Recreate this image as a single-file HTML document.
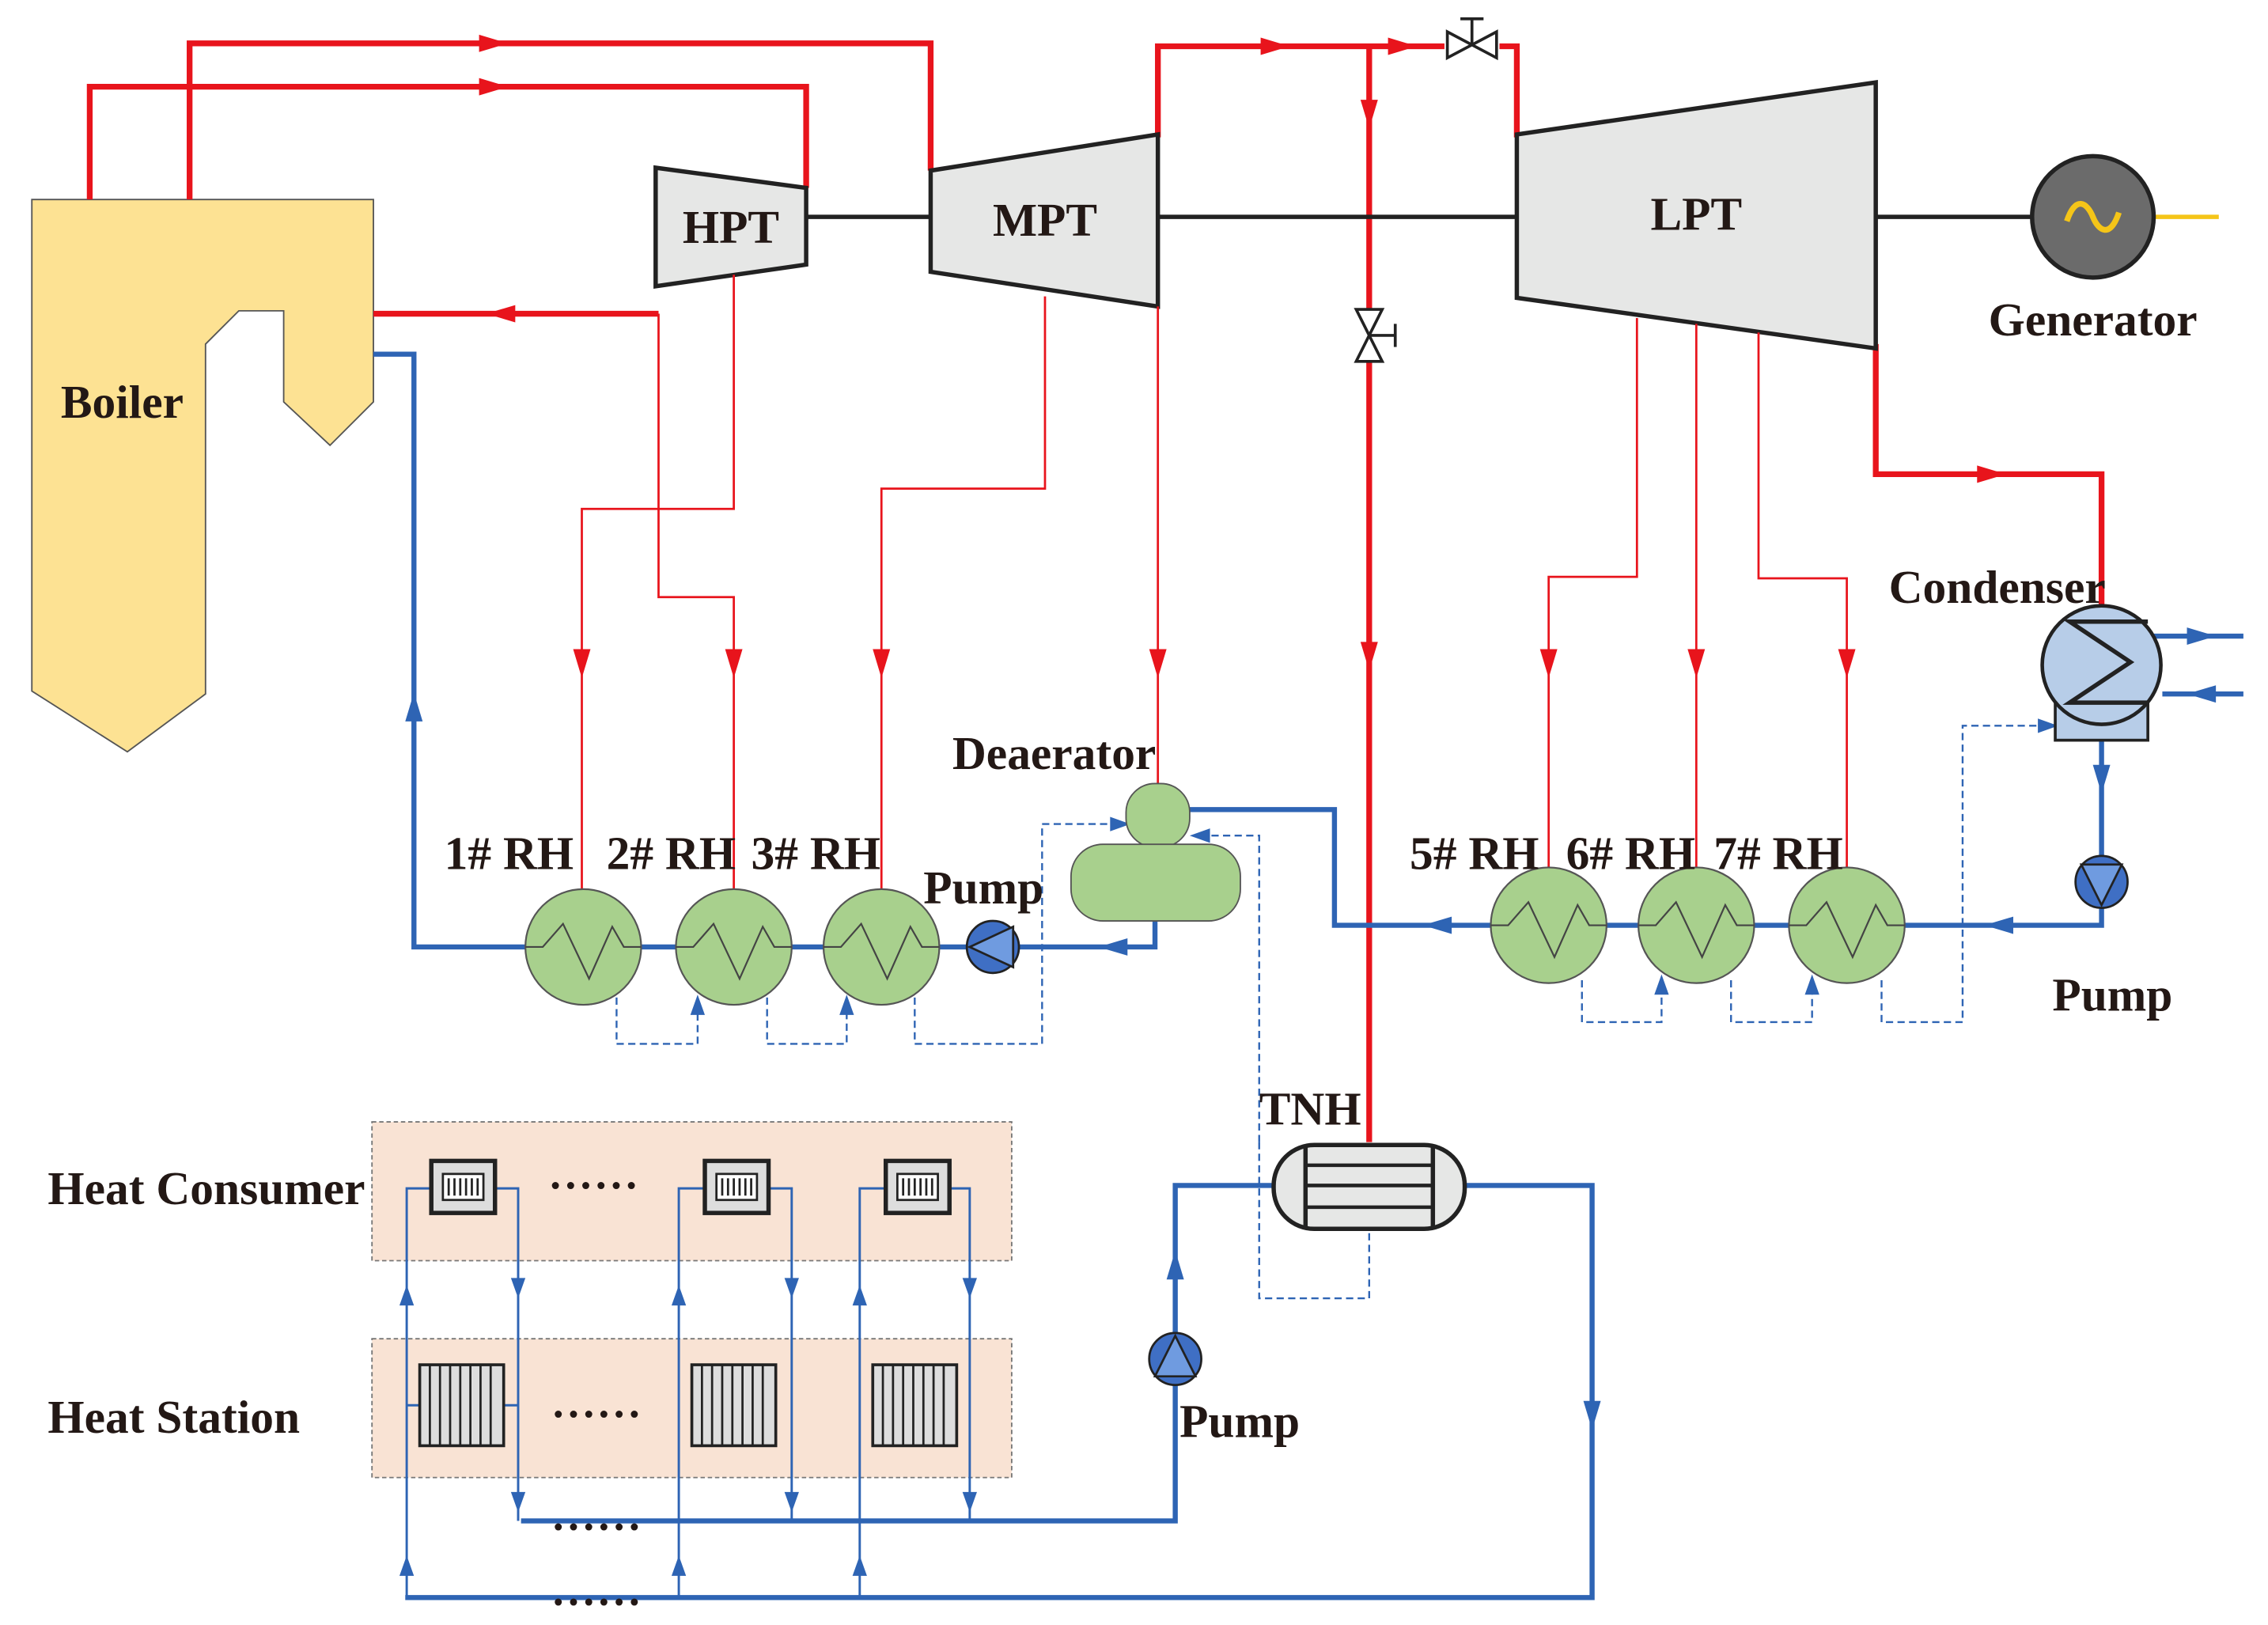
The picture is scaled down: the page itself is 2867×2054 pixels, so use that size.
<!DOCTYPE html>
<html><head><meta charset="utf-8"><style>html,body{margin:0;padding:0;background:#fff}svg{display:block}text{font-family:"Liberation Serif",serif;font-weight:bold;fill:#231815}</style></head>
<body>
<svg width="2867" height="2054" viewBox="0 0 1567 1124" preserveAspectRatio="none" xmlns="http://www.w3.org/2000/svg">
<defs>
<polygon id="ar" points="-11,-6 9,0 -11,6"/>
<polygon id="as" points="-8,-5 6,0 -8,5"/>
<g id="zz"><polyline points="-40,0 -28,0 -14,-16 4,22 20,-14 28,0 40,0" fill="none" stroke="#444" stroke-width="1.2"/></g>
</defs>
<polygon points="22,138 258,138 258,278 228,308 196,278 196,215 165,215 142,238 142,480 88,520 22,478" fill="#fde293" stroke="#555" stroke-width="1"/>
<text x="42" y="289" font-size="32.5">Boiler</text>
<g fill="none" stroke="#e8141c" stroke-width="4">
<polyline points="62,138 62,60 557,60 557,130"/>
<polyline points="131,138 131,30 643,30 643,118"/>
<polyline points="455,217 258,217"/>
<polyline points="800,95 800,32 1048,32 1048,95"/>
<polyline points="946,32 946,790"/>
<polyline points="1296,238 1296,328 1452,328 1452,422"/>
</g>
<g fill="#e8141c">
<use href="#ar" transform="translate(342,60)"/>
<use href="#ar" transform="translate(342,30)"/>
<use href="#ar" transform="translate(345,217) rotate(180)"/>
<use href="#ar" transform="translate(882,32)"/>
<use href="#ar" transform="translate(970,32)"/>
<use href="#ar" transform="translate(946,80) rotate(90)"/>
<use href="#ar" transform="translate(946,455) rotate(90)"/>
<use href="#ar" transform="translate(1377,328)"/>
</g>
<rect x="998" y="24" width="38" height="16" fill="#fff"/>
<polygon points="1000,22 1000,40 1034,22 1034,40" fill="#fff" stroke="#222" stroke-width="2"/>
<line x1="1017" y1="31" x2="1017" y2="13" stroke="#222" stroke-width="2"/><line x1="1009" y1="13" x2="1025" y2="13" stroke="#222" stroke-width="2"/>
<rect x="938" y="214" width="16" height="36" fill="#fff"/>
<polygon points="937,214 955,214 937,250 955,250" fill="#fff" stroke="#222" stroke-width="2"/>
<line x1="946" y1="232" x2="964" y2="232" stroke="#222" stroke-width="2"/><line x1="964" y1="224" x2="964" y2="240" stroke="#222" stroke-width="2"/>
<g stroke="#222" stroke-width="3"><line x1="557" y1="150" x2="643" y2="150"/><line x1="800" y1="150" x2="1048" y2="150"/><line x1="1296" y1="150" x2="1405" y2="150"/></g>
<g fill="#e6e7e6" stroke="#222" stroke-width="3">
<polygon points="453,116 557,130 557,183 453,198"/>
<polygon points="643,118 800,93 800,212 643,188"/>
<polygon points="1048,93 1296,57 1296,241 1048,206"/>
</g>
<text x="505" y="168" font-size="32.5" text-anchor="middle">HPT</text>
<text x="722" y="163" font-size="32.5" text-anchor="middle">MPT</text>
<text x="1172" y="159" font-size="32.5" text-anchor="middle">LPT</text>
<line x1="1488" y1="150" x2="1533" y2="150" stroke="#f5c518" stroke-width="3"/>
<circle cx="1446" cy="150" r="42" fill="#6b6b6b" stroke="#222" stroke-width="3"/>
<path d="M1428,153 C1434,135 1442,140 1446,150 C1450,160 1458,165 1464,147" fill="none" stroke="#f5c518" stroke-width="4"/>
<text x="1446" y="232" font-size="32.5" text-anchor="middle">Generator</text>
<g fill="none" stroke="#e8141c" stroke-width="1.5">
<polyline points="507,190 507,352 402,352 402,615"/>
<polyline points="455,217 455,413 507,413 507,615"/>
<polyline points="722,205 722,338 609,338 609,615"/>
<polyline points="800,212 800,542"/>
<polyline points="1131,220 1131,399 1070,399 1070,600"/>
<polyline points="1172,224 1172,600"/>
<polyline points="1215,230 1215,400 1276,400 1276,600"/>
</g>
<g fill="#e8141c">
<use href="#ar" transform="translate(402,460) rotate(90)"/>
<use href="#ar" transform="translate(507,460) rotate(90)"/>
<use href="#ar" transform="translate(609,460) rotate(90)"/>
<use href="#ar" transform="translate(800,460) rotate(90)"/>
<use href="#ar" transform="translate(1070,460) rotate(90)"/>
<use href="#ar" transform="translate(1172,460) rotate(90)"/>
<use href="#ar" transform="translate(1276,460) rotate(90)"/>
</g>
<g fill="none" stroke="#2e64b4" stroke-width="1.3" stroke-dasharray="5,3">
<polyline points="426,690 426,722 482,722 482,692"/>
<polyline points="530,690 530,722 585,722 585,692"/>
<polyline points="632,690 632,722 720,722 720,570 775,570"/>
<polyline points="870,790 870,898 946,898 946,850"/>
<polyline points="870,790 870,578 826,578"/>
<polyline points="1093,678 1093,707 1148,707 1148,678"/>
<polyline points="1196,678 1196,707 1252,707 1252,678"/>
<polyline points="1300,678 1300,707 1356,707 1356,502 1416,502"/>
</g>
<g fill="#2e64b4">
<use href="#as" transform="translate(482,694) rotate(-90)"/>
<use href="#as" transform="translate(585,694) rotate(-90)"/>
<use href="#as" transform="translate(775,570)"/>
<use href="#as" transform="translate(828,578) rotate(180)"/>
<use href="#as" transform="translate(1148,680) rotate(-90)"/>
<use href="#as" transform="translate(1252,680) rotate(-90)"/>
<use href="#as" transform="translate(1416,502)"/>
</g>
<g fill="none" stroke="#2e64b4" stroke-width="3.5">
<polyline points="258,245 286,245 286,655 668,655"/>
<polyline points="704,655 798,655 798,637"/>
<polyline points="822,560 922,560 922,640 1452,640 1452,628"/>
<polyline points="1452,592 1452,512"/>
<polyline points="1484,440 1550,440"/><polyline points="1494,480 1550,480"/>
<polyline points="880,820 812,820 812,922"/>
<polyline points="812,958 812,1052 360,1052"/>
<polyline points="1012,820 1100,820 1100,1105 280,1105"/>
</g>
<g fill="#2e64b4">
<use href="#ar" transform="translate(286,488) rotate(-90)"/>
<use href="#ar" transform="translate(768,655) rotate(180)"/>
<use href="#ar" transform="translate(992,640) rotate(180)"/>
<use href="#ar" transform="translate(1380,640) rotate(180)"/>
<use href="#ar" transform="translate(1452,540) rotate(90)"/>
<use href="#ar" transform="translate(1522,440)"/>
<use href="#ar" transform="translate(1520,480) rotate(180)"/>
<use href="#ar" transform="translate(812,874) rotate(-90)"/>
<use href="#ar" transform="translate(1100,980) rotate(90)"/>
</g>
<g fill="#a8d08d" stroke="#555" stroke-width="1.2">
<circle cx="403" cy="655" r="40"/><circle cx="507" cy="655" r="40"/><circle cx="609" cy="655" r="40"/>
<circle cx="1070" cy="640" r="40"/><circle cx="1172" cy="640" r="40"/><circle cx="1276" cy="640" r="40"/>
</g>
<use href="#zz" transform="translate(403,655)"/><use href="#zz" transform="translate(507,655)"/><use href="#zz" transform="translate(609,655)"/>
<use href="#zz" transform="translate(1070,640)"/><use href="#zz" transform="translate(1172,640)"/><use href="#zz" transform="translate(1276,640)"/>
<g fill="#3f6fc4" stroke="#222" stroke-width="1.5">
<circle cx="686" cy="655" r="18"/><circle cx="1452" cy="610" r="18"/><circle cx="812" cy="940" r="18"/>
</g>
<g fill="#6f9be0" stroke="#222" stroke-width="1.5">
<polygon points="670,655 700,641 700,669"/>
<polygon points="1438,598 1466,598 1452,626"/>
<polygon points="812,924 826,952 798,952"/>
</g>
<rect x="778" y="542" width="44" height="44" rx="20" fill="#a8d08d" stroke="#555"/>
<rect x="740" y="584" width="117" height="53" rx="22" fill="#a8d08d" stroke="#555"/>
<text x="658" y="532" font-size="32.5">Deaerator</text>
<rect x="1420" y="484" width="64" height="28" fill="#b7cde8" stroke="#222" stroke-width="2"/>
<circle cx="1452" cy="460" r="41" fill="#b7cde8" stroke="#222" stroke-width="2.5"/>
<polyline points="1484,430 1430,430 1472,458 1430,486 1484,486" fill="none" stroke="#222" stroke-width="3"/>
<text x="1305" y="417" font-size="32.5">Condenser</text>
<rect x="880" y="792" width="132" height="58" rx="28" fill="#e6e7e6" stroke="#222" stroke-width="3"/>
<line x1="902" y1="792" x2="902" y2="850" stroke="#222" stroke-width="3"/><line x1="990" y1="792" x2="990" y2="850" stroke="#222" stroke-width="3"/>
<g stroke="#222" stroke-width="2.5"><line x1="902" y1="806" x2="990" y2="806"/><line x1="902" y1="820" x2="990" y2="820"/><line x1="902" y1="835" x2="990" y2="835"/></g>
<text x="870" y="778" font-size="32.5">TNH</text>
<g font-size="32.5">
<text x="307" y="601">1# RH</text><text x="419" y="601">2# RH</text><text x="519" y="601">3# RH</text>
<text x="638" y="625">Pump</text>
<text x="974" y="601">5# RH</text><text x="1082" y="601">6# RH</text><text x="1184" y="601">7# RH</text>
<text x="1418" y="699">Pump</text><text x="815" y="994">Pump</text>
<text x="33" y="833">Heat Consumer</text><text x="33" y="991">Heat Station</text>
</g>
<rect x="257" y="776" width="442" height="96" fill="#f9e3d4" stroke="#777" stroke-dasharray="3,2"/>
<rect x="257" y="926" width="442" height="96" fill="#f9e3d4" stroke="#777" stroke-dasharray="3,2"/>
<g fill="none" stroke="#2e64b4" stroke-width="1.6">
<polyline points="298,822 281,822 281,1105"/><polyline points="342,822 358,822 358,1052"/>
<polyline points="290,972 281,972"/><polyline points="348,972 358,972"/>
<polyline points="487,822 469,822 469,1105"/><polyline points="531,822 547,822 547,1052"/>
<polyline points="612,822 594,822 594,1105"/><polyline points="656,822 670,822 670,1052"/>
</g>
<g fill="#2e64b4">
<use href="#as" transform="translate(281,895) rotate(-90)"/><use href="#as" transform="translate(281,1082) rotate(-90)"/>
<use href="#as" transform="translate(358,892) rotate(90)"/><use href="#as" transform="translate(358,1040) rotate(90)"/>
<use href="#as" transform="translate(469,895) rotate(-90)"/><use href="#as" transform="translate(469,1082) rotate(-90)"/>
<use href="#as" transform="translate(547,892) rotate(90)"/><use href="#as" transform="translate(547,1040) rotate(90)"/>
<use href="#as" transform="translate(594,895) rotate(-90)"/><use href="#as" transform="translate(594,1082) rotate(-90)"/>
<use href="#as" transform="translate(670,892) rotate(90)"/><use href="#as" transform="translate(670,1040) rotate(90)"/>
</g>
<g>
<rect x="298" y="803" width="44" height="36" fill="#ddd" stroke="#222" stroke-width="3"/><rect x="306" y="812" width="28" height="18" fill="#fff" stroke="#222" stroke-width="1.5"/>
<rect x="487" y="803" width="44" height="36" fill="#ddd" stroke="#222" stroke-width="3"/><rect x="495" y="812" width="28" height="18" fill="#fff" stroke="#222" stroke-width="1.5"/>
<rect x="612" y="803" width="44" height="36" fill="#ddd" stroke="#222" stroke-width="3"/><rect x="620" y="812" width="28" height="18" fill="#fff" stroke="#222" stroke-width="1.5"/>
</g>
<g stroke="#222" stroke-width="1.5">
<path d="M310,815v12M314,815v12M318,815v12M322,815v12M326,815v12M330,815v12"/>
<path d="M499,815v12M503,815v12M507,815v12M511,815v12M515,815v12M519,815v12"/>
<path d="M624,815v12M628,815v12M632,815v12M636,815v12M640,815v12M644,815v12"/>
</g>
<g fill="#ddd" stroke="#222" stroke-width="2">
<rect x="290" y="944" width="58" height="56"/><rect x="478" y="944" width="58" height="56"/><rect x="603" y="944" width="58" height="56"/>
</g>
<g stroke="#222" stroke-width="1.5">
<path d="M297,944v56M304,944v56M311,944v56M318,944v56M325,944v56M332,944v56M339,944v56"/>
<path d="M485,944v56M492,944v56M499,944v56M506,944v56M513,944v56M520,944v56M527,944v56"/>
<path d="M610,944v56M617,944v56M624,944v56M631,944v56M638,944v56M645,944v56M652,944v56"/>
</g>
<g font-size="30" letter-spacing="3">
<text x="380" y="822">......</text><text x="382" y="980">......</text>
<text x="382" y="1058">......</text><text x="382" y="1110">......</text>
</g>
</svg>
</body></html>
